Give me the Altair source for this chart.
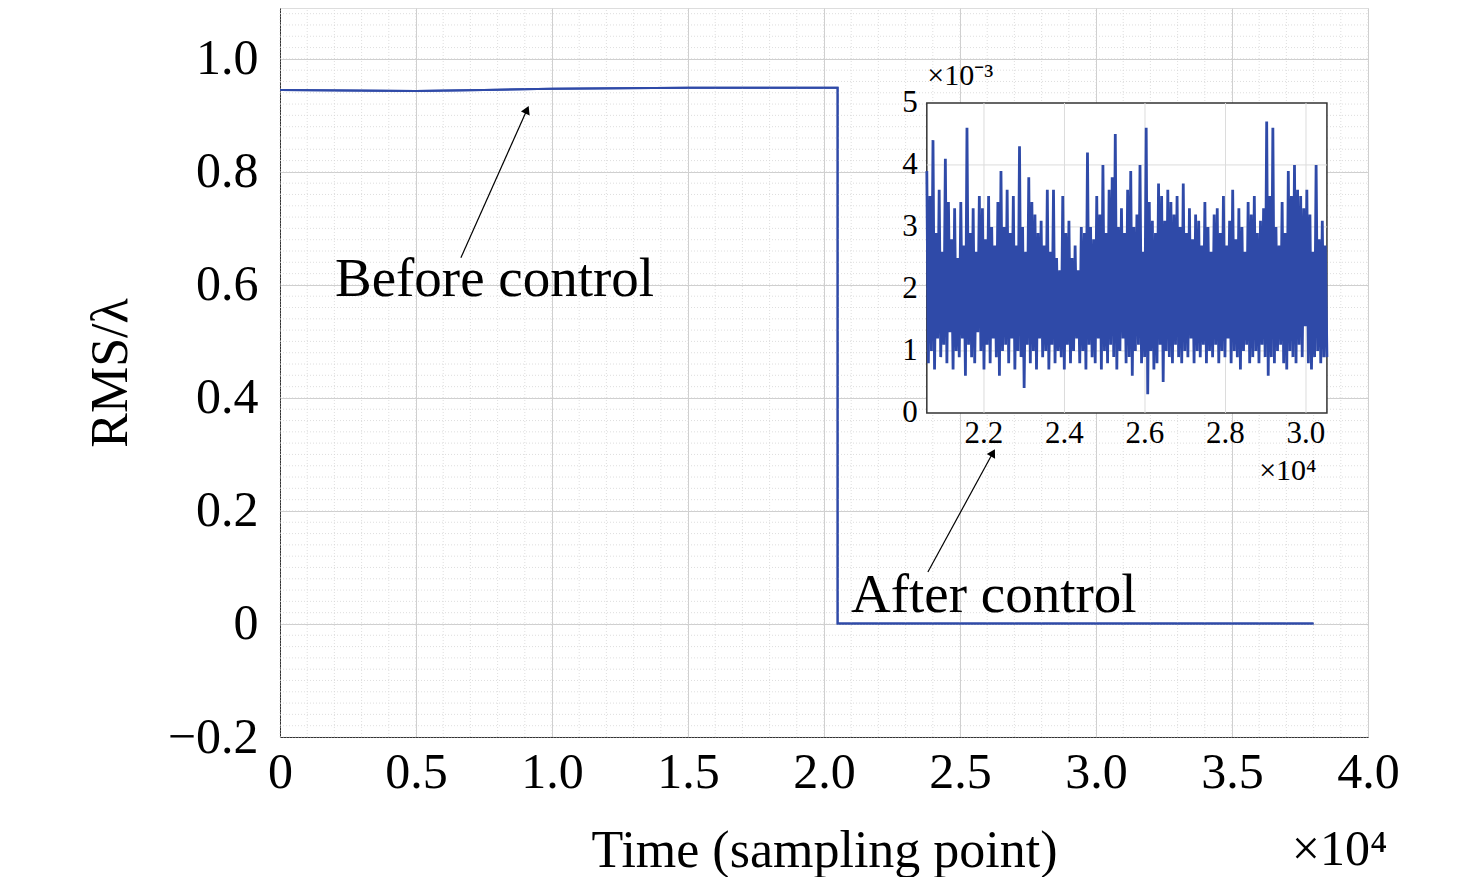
import altair as alt
import pandas as pd

# main series (x in units of 1e4)
main_x = [0, 0.25, 0.5, 0.75, 1.0, 1.25, 1.5, 1.75, 2.0, 2.05, 2.05, 2.5, 3.0, 3.5, 3.8]
main_y = [0.945, 0.944, 0.943, 0.945, 0.947, 0.948, 0.949, 0.949, 0.949, 0.949, 0.001, 0.001, 0.001, 0.001, 0.001]

# inset noise (units of 1e-3), from x=2.058e4 to 3.052e4
noise = [3.9,0.8,3.5,1.0,4.4,0.7,2.9,1.2,3.6,0.9,2.6,1.1,4.1,0.8,3.4,1.3,2.8,0.7,3.3,1.0,
         2.5,0.9,3.4,1.2,2.7,0.6,4.6,1.1,2.9,0.9,3.3,0.8,2.6,1.3,3.5,1.0,3.3,0.7,2.8,1.1,
         3.5,0.8,3.0,1.2,2.7,0.9,3.4,0.6,3.9,1.0,3.0,1.1,3.6,0.8,2.9,1.2,3.5,0.7,2.7,1.0,
         4.3,0.9,3.0,0.4,2.6,1.1,3.8,0.8,3.4,1.0,3.2,0.7,2.9,1.2,3.1,0.9,2.7,1.0,3.6,0.7,
         2.6,1.1,3.6,0.8,2.5,1.0,2.3,0.9,3.5,0.7,2.9,1.1,3.1,0.8,2.5,1.0,2.7,1.2,2.3,0.8,
         3.0,1.0,2.9,0.7,4.2,1.1,3.0,0.9,2.8,0.8,3.5,1.2,3.2,0.7,4.0,1.0,2.9,0.8,3.6,1.1,
         3.8,0.9,4.5,0.7,3.0,1.0,3.3,1.2,2.9,0.8,3.6,0.9,3.9,0.6,3.0,1.0,3.2,1.1,4.0,0.8,
         2.6,0.9,4.6,0.3,3.4,1.0,3.1,0.7,2.9,0.8,3.7,1.1,3.5,0.5,3.1,1.0,3.6,0.9,3.4,0.8,
         3.2,1.1,3.5,0.9,3.0,0.8,3.7,1.0,2.9,0.9,3.3,1.2,2.8,0.8,3.2,1.0,3.1,0.9,2.7,1.1,
         3.4,0.8,3.0,1.0,2.6,0.9,3.2,1.1,3.3,0.8,2.9,1.0,3.5,0.9,2.7,1.2,3.1,0.8,3.6,1.0,
         2.8,0.9,3.3,0.7,3.0,1.0,2.6,1.1,3.4,0.8,3.2,0.9,3.5,1.0,2.9,0.8,3.1,1.1,3.3,0.9,
         4.7,0.6,3.5,0.9,4.6,0.8,3.0,1.0,2.7,1.1,3.4,0.8,2.9,0.7,3.9,1.0,3.5,0.9,4.0,0.8,
         3.6,1.1,3.5,0.9,3.3,1.4,3.6,0.8,3.2,0.7,2.6,0.9,4.0,1.0,2.8,0.8,3.1,0.9,2.7,0.9]

x0, x1 = 2.058, 3.052
n = len(noise)
inset_t = [x0 + (x1 - x0) * i / (n - 1) for i in range(n)]

# inset placement in main coordinates
IX0, IX1 = 2.378, 3.849
IY0, IY1 = 0.3735, 0.922

inset_df = pd.DataFrame({"t": inset_t, "v": noise})
inset_xt = [2.2, 2.4, 2.6, 2.8, 3.0]
inset_yt = [0, 1, 2, 3, 4, 5]

FONT = "Liberation Serif"
BLUE = "#2f4aa8"

W, H = 1088, 729
xs = alt.Scale(domain=[0, 4], nice=False, zero=False)
ys = alt.Scale(domain=[-0.2, 1.09], nice=False, zero=False)

minor_x = [round(i * 0.1, 2) for i in range(41)]
minor_y = [round(-0.2 + i * 0.02, 3) for i in range(65)]

main_df = pd.DataFrame({"x": main_x, "y": main_y, "o": range(len(main_x))})
main_line = alt.Chart(main_df).mark_line(color=BLUE, strokeWidth=2).encode(
    x=alt.X("x:Q", scale=xs, axis=alt.Axis(values=[0, 0.5, 1, 1.5, 2, 2.5, 3, 3.5, 4],
            labelExpr="datum.value==0?'0':format(datum.value,'.1f')", labelFont=FONT, labelFontSize=50,
            labelColor="black", labelPadding=10, labelFlush=False, labelOverlap=False, ticks=False, domainColor="#333",
            grid=True, gridColor="#cfcfcf", gridWidth=1, title="Time (sampling point)",
            titleFont=FONT, titleFontSize=52, titleFontWeight="normal", titleColor="black", titlePadding=28)),
    y=alt.Y("y:Q", scale=ys, axis=alt.Axis(values=[-0.2, 0, 0.2, 0.4, 0.6, 0.8, 1.0],
            labelExpr="datum.value==0?'0':format(datum.value,'.1f')", labelFont=FONT, labelFontSize=50,
            labelColor="black", labelPadding=22, labelFlush=False, labelOverlap=False, ticks=False, domainColor="#333",
            grid=True, gridColor="#cfcfcf", gridWidth=1, title="RMS/λ",
            titleFont=FONT, titleFontSize=52, titleFontWeight="normal", titleColor="black", titlePadding=30)),
    order="o:Q",
)

mgx = alt.Chart(pd.DataFrame({"x": minor_x})).mark_rule(color="#d6d6d6", strokeDash=[1, 2], strokeWidth=0.8).encode(
    x=alt.X("x:Q", scale=xs), y=alt.datum(-0.2), y2=alt.datum(1.09))
mgy = alt.Chart(pd.DataFrame({"y": minor_y})).mark_rule(color="#d6d6d6", strokeDash=[1, 2], strokeWidth=0.8).encode(
    y=alt.Y("y:Q", scale=ys), x=alt.datum(0), x2=alt.datum(4))

box = alt.Chart(pd.DataFrame({"a": [IX0], "b": [IX1], "c": [IY0], "d": [IY1]})).mark_rect(
    fill="white", stroke="#333", strokeWidth=1.5).encode(
    x=alt.X("a:Q", scale=xs), x2="b:Q", y=alt.Y("c:Q", scale=ys), y2="d:Q")

sx = f"{IX0} + (datum.t - {x0}) / ({x1 - x0}) * ({IX1 - IX0})"
sy = f"{IY0} + datum.v / 5 * ({IY1 - IY0})"

igx = alt.Chart(pd.DataFrame({"t": inset_xt})).transform_calculate(px=sx).mark_rule(
    color="#dcdcdc", strokeWidth=1).encode(x=alt.X("px:Q", scale=xs), y=alt.datum(IY0), y2=alt.datum(IY1))
igy = alt.Chart(pd.DataFrame({"v": inset_yt[1:-1]})).transform_calculate(py=sy).mark_rule(
    color="#dcdcdc", strokeWidth=1).encode(y=alt.Y("py:Q", scale=ys), x=alt.datum(IX0), x2=alt.datum(IX1))

inset_line = alt.Chart(inset_df).transform_calculate(px=sx, py=sy).mark_line(
    color=BLUE, strokeWidth=2.8).encode(x=alt.X("px:Q", scale=xs), y=alt.Y("py:Q", scale=ys))

ixl = alt.Chart(pd.DataFrame({"t": inset_xt, "s": ["2.2", "2.4", "2.6", "2.8", "3.0"]})).transform_calculate(
    px=sx).mark_text(font=FONT, fontSize=31, baseline="top", dy=6).encode(
    x=alt.X("px:Q", scale=xs), y=alt.datum(IY0), text="s:N")
iyl = alt.Chart(pd.DataFrame({"v": inset_yt, "s": [str(v) for v in inset_yt]})).transform_calculate(
    py=sy).mark_text(font=FONT, fontSize=31, align="right", baseline="middle", dx=-9).encode(
    x=alt.datum(IX0), y=alt.Y("py:Q", scale=ys), text="s:N")

texts_df = pd.DataFrame({
    "x": [0.202, 2.099, 2.38, 3.60, 3.72],
    "y": [0.611, 0.051, 0.97, 0.27, -0.40],
    "s": ["Before control", "After control", "×10⁻³", "×10⁴", "×10⁴"],
    "f": [55, 55, 30, 30, 50],
})
texts = alt.Chart(texts_df).mark_text(font=FONT, align="left", baseline="middle").encode(
    x=alt.X("x:Q", scale=xs), y=alt.Y("y:Q", scale=ys), text="s:N",
    size=alt.Size("f:Q", scale=None, legend=None))

arr_df = pd.DataFrame({"x": [0.665, 2.382], "y": [0.648, 0.092], "x2": [0.908, 2.621], "y2": [0.910, 0.303],
                       "ang": [24, 29]})
arr_lines = alt.Chart(arr_df).mark_rule(color="black", strokeWidth=1.2).encode(
    x=alt.X("x:Q", scale=xs), y=alt.Y("y:Q", scale=ys), x2="x2:Q", y2="y2:Q")
arr_heads = alt.Chart(arr_df).mark_point(shape="triangle-up", filled=True, color="black", size=90, opacity=1).encode(
    x=alt.X("x2:Q", scale=xs), y=alt.Y("y2:Q", scale=ys), angle=alt.Angle("ang:Q", scale=None))

chart = alt.layer(main_line, mgx, mgy, main_line, box, igx, igy, inset_line, ixl, iyl, texts, arr_lines, arr_heads).properties(
    width=W, height=H, autosize=alt.AutoSizeParams(type="none"),
    padding={"left": 272, "top": 0, "right": 100, "bottom": 140}
).configure_view(stroke="#333", strokeWidth=1.5).configure(background="white")

chart.save("out.html", embed_options={"renderer": "svg", "actions": False})
